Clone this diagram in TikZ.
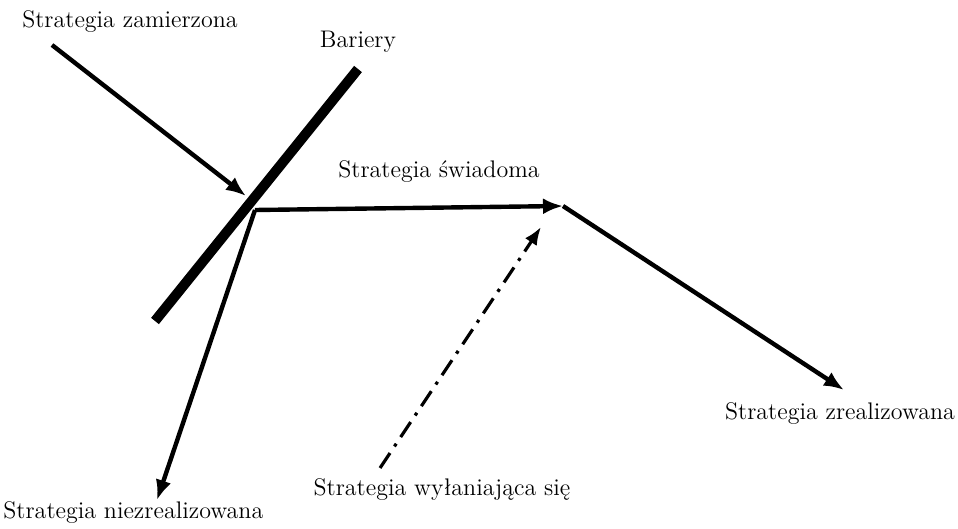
\documentclass[tikz,border=0pt]{standalone}
\usetikzlibrary{arrows.meta}
\begin{document}
\begin{tikzpicture}[x=0.5pt, y=-0.5pt,
	lbl/.style={font=\fontsize{12}{14}\selectfont, inner sep=0pt},
	strat/.style={line width=2.2pt, -{Latex[length=10pt, width=8pt]}}]
	\useasboundingbox (0,0) rectangle (958,529);
	\begin{scope} [every node/.style={lbl}]
		\node (zam) at (130,22){Strategia zamierzona};
		\node (bar) at (358,42){Bariery};
		\node (swi) at (439,172){Strategia świadoma};
		\node (zre) at (840,414){Strategia zrealizowana};
		\node[anchor=west] (nie) at (3,513){Strategia niezrealizowana};
		\node (wyl) at (442,490){Strategia wyłaniająca się};
	\end{scope}
	\coordinate (z1) at (52,45);
	\coordinate (z2) at (246,196);
	\coordinate (b1) at (358,69);
	\coordinate (b2) at (155,321);
	\coordinate (k) at (255,210);
	\coordinate (s) at (563,206);
	\coordinate (r) at (844,390);
	\coordinate (n) at (157,500);
	\coordinate (w1) at (380,468);
	\coordinate (w2) at (541,227);
	\draw[line width=5pt] (b1) -- (b2);
	\draw[strat] (z1) -- (z2);
	\draw[strat] (k) -- (s);
	\draw[strat] (s) -- (r);
	\draw[strat] (k) -- (n);
	\draw[line width=1.6pt, dash pattern=on 9pt off 4pt on 1.6pt off 4pt, -{Latex[length=9pt, width=7pt]}] (w1) -- (w2);
\end{tikzpicture}
\end{document}
